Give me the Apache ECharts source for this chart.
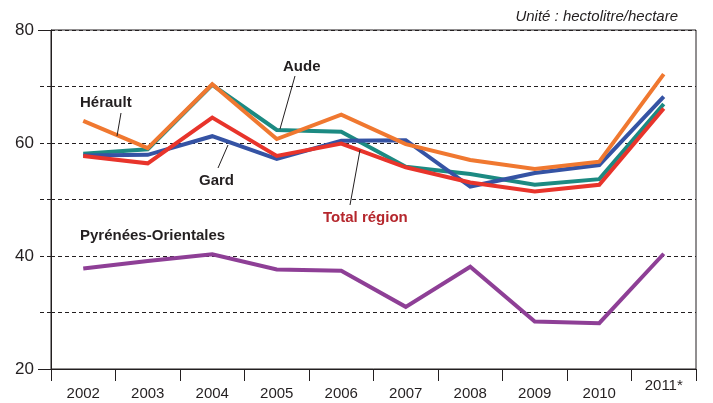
<!DOCTYPE html>
<html><head><meta charset="utf-8">
<script src="https://cdn.jsdelivr.net/npm/echarts@6/dist/echarts.min.js"></script>
<style>html,body{margin:0;padding:0;background:#fff}#c{width:713px;height:403px}</style>
</head><body><div id="c"></div>
<script>
const years = ['2002','2003','2004','2005','2006','2007','2008','2009','2010','2011*'];
const herault = [63.9, 59.1, 70.4, 60.7, 65.0, 59.8, 57.0, 55.4, 56.7, 72.2];
const aude    = [58.1, 58.9, 70.3, 62.3, 62.0, 55.8, 54.5, 52.6, 53.6, 66.9];
const gard    = [57.8, 57.9, 61.2, 57.2, 60.4, 60.5, 52.3, 54.7, 56.1, 68.2];
const total   = [57.7, 56.4, 64.5, 57.7, 59.9, 55.7, 53.0, 51.4, 52.6, 66.1];
const po      = [37.8, 39.1, 40.3, 37.6, 37.4, 31.0, 38.1, 28.4, 28.1, 40.4];
const yTickLabels = [20, 40, 60, 80];

const FONT = '"Liberation Sans", Arial, sans-serif';
const chart = echarts.init(document.getElementById('c'), null, {renderer: 'canvas'});

function line(name, data, color, z) {
  return {name, type: 'line', data, symbol: 'none', z,
    lineStyle: {color, width: 4, join: 'miter'}, animation: false};
}

const txt = (x, y, s, color, extra) => Object.assign({
  type: 'text', left: x, top: y, z: 100,
  style: {text: s, fill: color || '#231F20', font: 'bold 15px ' + FONT}
}, extra || {});
const seg = (x1, y1, x2, y2) => ({type: 'line', z: 100,
  shape: {x1, y1, x2, y2}, style: {stroke: '#231F20', lineWidth: 1}});

chart.setOption({
  animation: false,
  backgroundColor: '#fff',
  grid: {left: 51, right: 17, top: 30, bottom: 34, show: true, containLabel: false,
    outerBoundsMode: 'none',
    borderColor: '#231F20', borderWidth: 1, backgroundColor: 'transparent'},
  xAxis: {type: 'category', data: years, boundaryGap: true,
    axisLine: {lineStyle: {color: '#231F20', width: 1}},
    axisTick: {show: true, length: 12, interval: 0, lineStyle: {color: '#231F20'}},
    axisLabel: {color: '#231F20', fontSize: 15, fontFamily: FONT, margin: 13, interval: 0,
      hideOverlap: false,
      formatter: v => v.indexOf('*') >= 0 ? '{up|' + v + '}' : '{n|' + v + '}',
      rich: {
        n: {fontSize: 15, fontFamily: FONT, color: '#231F20', lineHeight: 24},
        up: {fontSize: 15, fontFamily: FONT, color: '#231F20', lineHeight: 8}}}},
  yAxis: [{type: 'value', min: 20, max: 80, interval: 10,
    axisLine: {show: true, lineStyle: {color: '#231F20'}},
    axisTick: {show: true, length: 13, lineStyle: {color: '#231F20', type: [4, 3]}},
    splitLine: {show: true, lineStyle: {color: '#231F20', type: [4, 3], width: 1}},
    axisLabel: {color: '#231F20', fontSize: 17, fontFamily: FONT, margin: 17,
      formatter: v => yTickLabels.includes(v) ? String(v) : ''}},
    {type: 'value', min: 20, max: 80, interval: 60, position: 'left',
    axisLine: {show: false}, splitLine: {show: false}, axisLabel: {show: false},
    axisTick: {show: true, length: 13, lineStyle: {color: '#231F20'}}}],
  series: [
    line('Pyrénées-Orientales', po, '#8E3F96', 2),
    line('Aude', aude, '#1C8A82', 3),
    line('Gard', gard, '#3553A4', 4),
    line('Total région', total, '#E8342B', 5),
    line('Hérault', herault, '#F07830', 6)
  ],
  graphic: [
    {type: 'text', right: 35, top: 9, z: 100,
      style: {text: 'Unité : hectolitre/hectare', fill: '#231F20', font: 'italic 15px ' + FONT}},
    txt(80, 95, 'Hérault'),
    seg(121, 113, 117, 136),
    txt(283, 59, 'Aude'),
    seg(295, 76, 280, 129),
    txt(199, 173, 'Gard'),
    seg(218, 168, 228, 145),
    txt(323, 210, 'Total région', '#B5272D'),
    seg(350, 205, 360, 150),
    txt(80, 228, 'Pyrénées-Orientales')
  ]
});
</script></body></html>
